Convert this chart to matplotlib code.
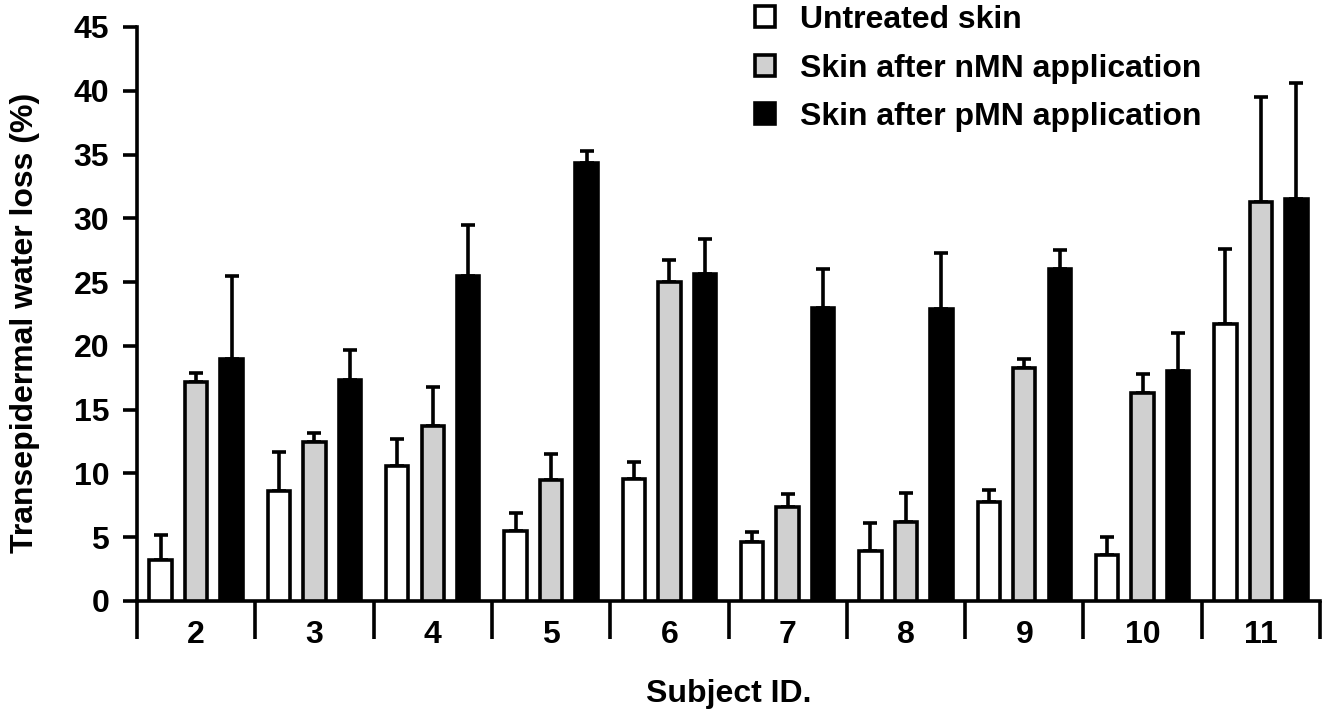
import numpy as np
import matplotlib
matplotlib.use("Agg")
import matplotlib.pyplot as plt
from matplotlib.patches import Patch

plt.rcParams['font.family'] = ['Liberation Sans', 'DejaVu Sans']
plt.rcParams['font.weight'] = 'bold'

# data
subjects = ['2', '3', '4', '5', '6', '7', '8', '9', '10', '11']
untreated = [3.2, 8.6, 10.6, 5.5, 9.6, 4.6, 3.9, 7.8, 3.6, 21.7]
untreated_top = [5.2, 11.7, 12.7, 6.9, 10.9, 5.4, 6.1, 8.7, 5.0, 27.6]
nmn = [17.2, 12.5, 13.7, 9.5, 25.0, 7.4, 6.2, 18.3, 16.3, 31.3]
nmn_top = [17.9, 13.2, 16.8, 11.5, 26.7, 8.4, 8.5, 19.0, 17.8, 39.5]
pmn = [19.0, 17.3, 25.5, 34.3, 25.6, 23.0, 22.9, 26.0, 18.0, 31.5]
pmn_top = [25.5, 19.7, 29.5, 35.3, 28.4, 26.0, 27.3, 27.5, 21.0, 40.6]

labels = ['Untreated skin', 'Skin after nMN application', 'Skin after pMN application']
colors = ['white', '#d0d0d0', 'black']

fig = plt.figure(figsize=(13.3, 7.09), dpi=100)
ax = fig.add_axes([137/1330, 1 - 601/709, (1320 - 137)/1330, (601 - 27)/709])

x = np.arange(len(subjects))
lw = 2.6
fs = 23
series = [(untreated, untreated_top), (nmn, nmn_top), (pmn, pmn_top)]
offsets = [-0.3, 0.0, 0.3]
for (vals, tops), off, col in zip(series, offsets, colors):
    vals = np.array(vals)
    tops = np.array(tops)
    ax.errorbar(x + off, vals, yerr=[np.zeros_like(vals), tops - vals], fmt='none',
                ecolor='black', elinewidth=lw, capsize=5, capthick=lw, zorder=2)
    ax.bar(x + off, vals, width=0.19, color=col, edgecolor='black', linewidth=lw, zorder=3)

ax.set_xlim(-0.5, len(subjects) - 0.5)
ax.set_ylim(0, 45)
ax.set_yticks(np.arange(0, 46, 5))

# group boundaries as long ticks, subject labels centred in each group
ax.set_xticks(np.arange(-0.5, len(subjects), 1.0))
ax.set_xticklabels([])
ax.set_xticks(x, minor=True)
ax.set_xticklabels(subjects, minor=True)
ax.tick_params(axis='x', which='major', length=27, width=lw, direction='out')
ax.tick_params(axis='x', which='minor', length=0, pad=14, labelsize=fs)
ax.tick_params(axis='y', length=10, width=lw, direction='out', pad=10, labelsize=fs)

for s in ['top', 'right']:
    ax.spines[s].set_visible(False)
for s in ['left', 'bottom']:
    ax.spines[s].set_linewidth(lw)

ax.set_ylabel('Transepidermal water loss (%)', fontsize=fs, fontweight='bold')
ax.yaxis.set_label_coords(-0.082, 0.484)
ax.set_xlabel('Subject ID.', fontsize=fs, fontweight='bold')
ax.xaxis.set_label_coords(0.5, -0.136)

handles = [Patch(facecolor=c, edgecolor='black', linewidth=lw) for c in colors]
leg = ax.legend(handles, labels, loc='upper left', bbox_to_anchor=(755/1330, 1 - 5/709),
                bbox_transform=fig.transFigure, frameon=False, fontsize=fs,
                handlelength=0.62, handleheight=0.62, handletextpad=0.78,
                labelspacing=0.58, borderpad=0, borderaxespad=0)
for t in leg.get_texts():
    t.set_fontweight('bold')

fig.savefig('out.png', dpi=100)
